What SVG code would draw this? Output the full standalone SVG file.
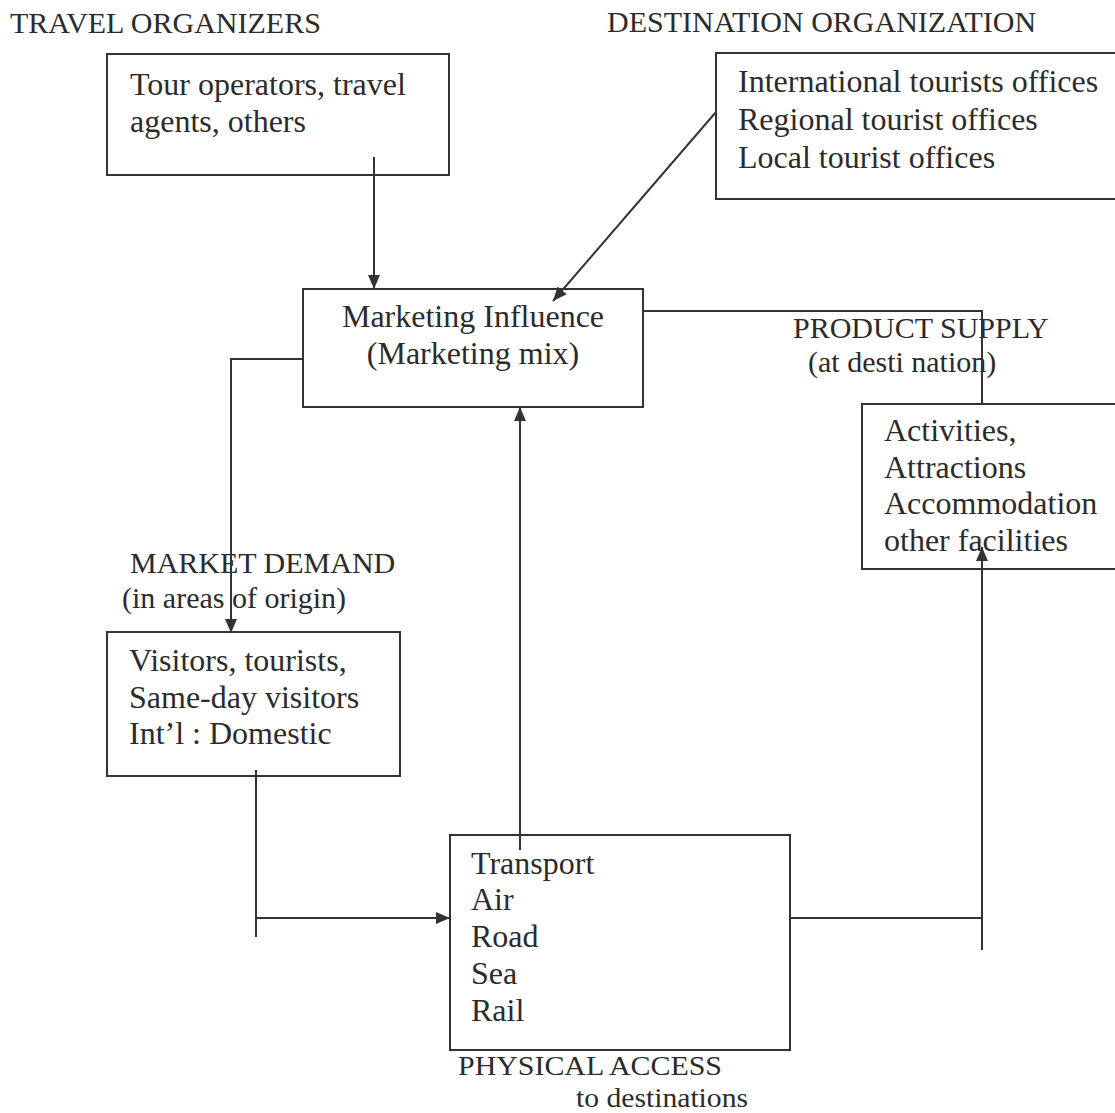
<svg xmlns="http://www.w3.org/2000/svg" width="1115" height="1113" viewBox="0 0 1115 1113">
<style>
text{font-family:"Liberation Serif","Times New Roman",serif;fill:#2b2b2b}
.t{font-size:30px}
.s{font-size:28px}
.b{font-size:32px}
.box{fill:none;stroke:#333;stroke-width:2}
.ln{fill:none;stroke:#333;stroke-width:2}
</style>
<defs>
<marker id="ah" viewBox="0 0 14 12" refX="14" refY="6" markerWidth="14" markerHeight="12" markerUnits="userSpaceOnUse" orient="auto">
<path d="M0,0 L14,6 L0,12 Z" fill="#333"/>
</marker>
</defs>
<rect width="1115" height="1113" fill="#ffffff"/>

<g id="title-travel"><text class="t" x="10" y="33">TRAVEL ORGANIZERS</text></g>
<g id="title-destination"><text class="t" x="607" y="32">DESTINATION ORGANIZATION</text></g>

<g id="travel-organizers">
<rect class="box" x="107" y="54" width="342" height="121"/>
<text class="b" x="130" y="95">Tour operators, travel</text>
<text class="b" x="130" y="132">agents, others</text>
</g>

<g id="destination-organization">
<rect class="box" x="716" y="53" width="410" height="146"/>
<text class="b" x="738" y="92">International tourists offices</text>
<text class="b" x="738" y="130">Regional tourist offices</text>
<text class="b" x="738" y="168">Local tourist offices</text>
</g>

<g id="marketing">
<rect class="box" x="303" y="289" width="340" height="118"/>
<text class="b" x="473" y="327" text-anchor="middle">Marketing Influence</text>
<text class="b" x="473" y="364" text-anchor="middle">(Marketing mix)</text>
</g>

<g id="product-supply-label">
<text class="t" x="793" y="338">PRODUCT SUPPLY</text>
<text class="t" x="808" y="372">(at desti nation)</text>
</g>

<g id="product-supply">
<rect class="box" x="862" y="404" width="264" height="165"/>
<text class="b" x="884" y="441">Activities,</text>
<text class="b" x="884" y="478">Attractions</text>
<text class="b" x="884" y="514">Accommodation</text>
<text class="b" x="884" y="551">other facilities</text>
</g>

<g id="market-demand-label">
<text class="t" x="130" y="573">MARKET DEMAND</text>
<text class="t" x="122" y="608">(in areas of origin)</text>
</g>

<g id="market-demand">
<rect class="box" x="107" y="632" width="293" height="144"/>
<text class="b" x="129" y="671">Visitors, tourists,</text>
<text class="b" x="129" y="708">Same-day visitors</text>
<text class="b" x="129" y="744">Int’l : Domestic</text>
</g>

<g id="physical-access">
<rect class="box" x="450" y="835" width="340" height="215"/>
<text class="b" x="471" y="874">Transport</text>
<text class="b" x="471" y="910">Air</text>
<text class="b" x="471" y="947">Road</text>
<text class="b" x="471" y="984">Sea</text>
<text class="b" x="471" y="1021">Rail</text>
</g>

<g id="physical-access-label">
<text class="s" x="458" y="1075" textLength="264" lengthAdjust="spacingAndGlyphs">PHYSICAL ACCESS</text>
<text class="s" x="576" y="1107" textLength="172" lengthAdjust="spacingAndGlyphs">to destinations</text>
</g>

<g id="connectors">
<line class="ln" x1="374" y1="157" x2="374" y2="289" marker-end="url(#ah)"/>
<line class="ln" x1="716" y1="112" x2="553" y2="301" marker-end="url(#ah)"/>
<polyline class="ln" points="303,359 231,359 231,633" marker-end="url(#ah)"/>
<polyline class="ln" points="643,311 982,311 982,404"/>
<line class="ln" x1="256" y1="770" x2="256" y2="937"/>
<line class="ln" x1="256" y1="918" x2="450" y2="918" marker-end="url(#ah)"/>
<line class="ln" x1="520" y1="850" x2="520" y2="407" marker-end="url(#ah)"/>
<line class="ln" x1="790" y1="918" x2="982" y2="918"/>
<line class="ln" x1="982" y1="950" x2="982" y2="547" marker-end="url(#ah)"/>
</g>
</svg>
